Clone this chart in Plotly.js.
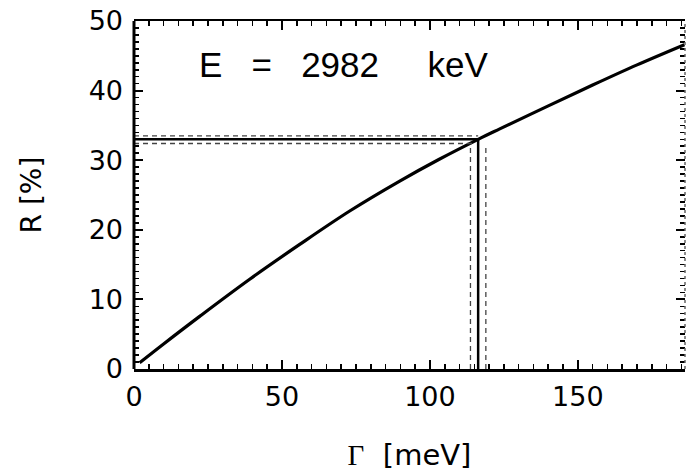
<!DOCTYPE html>
<html>
<head>
<meta charset="utf-8">
<script src="https://cdn.plot.ly/plotly-3.0.1.min.js"></script>
<style>
  html, body { margin: 0; padding: 0; background: #fff; }
  #chart { width: 686px; height: 476px; }
</style>
</head>
<body>
<div id="chart"></div>
<script>
// Ratio R versus width Gamma for the 2982 keV level
const gammaMeV = [1.9, 10, 22.3, 39.1, 56, 72.9, 89.8, 103, 116.3, 123.6, 140, 155, 170, 186];
const ratioPct = [0.9, 3.6, 7.6, 12.9, 17.9, 22.7, 27.0, 30.1, 33.0, 34.5, 37.8, 40.8, 43.7, 46.6];

const rMeasured = 33.0;
const rBand = [32.4, 33.5];
const gammaResult = 116.3;
const gammaBand = [113.7, 118.9];
const dashTop = 31.8;

const energyLabel = "E   =   2982     keV";

const solid = { color: "#000", width: 2.5 };
const dashed = { color: "#444", width: 1.3, dash: "5px,4px" };

const traces = [
  { x: gammaMeV, y: ratioPct, mode: "lines", line: { color: "#000", width: 3.2, shape: "spline" }, hoverinfo: "skip" },
  // horizontal: measured R and its band
  { x: [0, gammaResult], y: [rMeasured, rMeasured], mode: "lines", line: solid },
  { x: [0, gammaResult], y: [rBand[1], rBand[1]], mode: "lines", line: dashed },
  { x: [0, gammaResult - 2], y: [rBand[0], rBand[0]], mode: "lines", line: dashed },
  // vertical: resulting Gamma and its band
  { x: [gammaResult, gammaResult], y: [0, rMeasured], mode: "lines", line: solid },
  { x: [gammaBand[0], gammaBand[0]], y: [0, dashTop], mode: "lines", line: dashed },
  { x: [gammaBand[1], gammaBand[1]], y: [0, dashTop], mode: "lines", line: dashed }
];

const sans = "DejaVu Sans, Arial, sans-serif";
const tickFont = { family: sans, size: 27, color: "#000" };

const layout = {
  width: 686,
  height: 476,
  margin: { l: 134, r: 1, t: 21, b: 107 },
  paper_bgcolor: "#fff",
  plot_bgcolor: "#fff",
  showlegend: false,
  xaxis: {
    range: [0, 186.2],
    showgrid: false,
    zeroline: false,
    showline: true,
    linecolor: "#000",
    linewidth: 2.5,
    mirror: "ticks",
    ticks: "inside",
    ticklen: 9,
    tickwidth: 2,
    tickcolor: "#000",
    dtick: 50,
    tick0: 0,
    minor: { dtick: 5, ticks: "inside", ticklen: 5, tickwidth: 1.6, tickcolor: "#000" },
    tickfont: tickFont,
    ticklabelstandoff: 2,
    title: { text: "<span style=\"font-family:Liberation Serif\">Γ</span>  [meV]", font: { family: sans, size: 29, color: "#000" }, standoff: 34 }
  },
  yaxis: {
    range: [0, 50],
    showgrid: false,
    zeroline: false,
    showline: false,
    mirror: "ticks",
    ticks: "inside",
    ticklen: 9,
    tickwidth: 2,
    tickcolor: "#000",
    dtick: 10,
    tick0: 0,
    minor: { dtick: 1, ticks: "inside", ticklen: 5, tickwidth: 1.6, tickcolor: "#000" },
    tickfont: tickFont,
    ticklabelstandoff: 10,
    title: { text: "R [%]", font: { family: sans, size: 28, color: "#000" }, standoff: 38 }
  },
  shapes: [
    { type: "line", xref: "paper", yref: "paper", x0: 0, x1: 0, y0: 0, y1: 1, line: { color: "#000", width: 3 } },
    { type: "line", xref: "paper", yref: "paper", x0: 1, x1: 1, y0: 0, y1: 1, line: { color: "#666", width: 1.5, dash: "dot" } }
  ],
  annotations: [
    { text: energyLabel, xref: "paper", yref: "paper", x: 0.114, y: 0.876, xanchor: "left", yanchor: "middle",
      showarrow: false, font: { family: "Liberation Sans, Arial, sans-serif", size: 35, color: "#000" } }
  ]
};

Plotly.newPlot("chart", traces, layout, { staticPlot: true, displayModeBar: false });
</script>
</body>
</html>
